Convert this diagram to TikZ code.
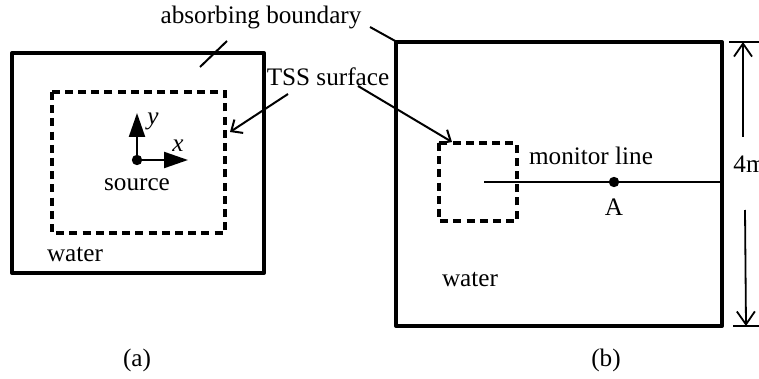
\documentclass[tikz,border=0pt]{standalone}
\usepackage{fontspec}
\setmainfont{Liberation Serif}
\usetikzlibrary{arrows.meta}
\begin{document}
\begin{tikzpicture}[x=0.5pt,y=-0.5pt, font=\fontsize{12.6}{15}\selectfont,
  box/.style={line width=2pt, line join=round},
  tss/.style={line width=1.9pt, dash pattern=on 4pt off 2.6pt},
  thinline/.style={line width=1pt},
  barb/.style={thinline,-{Straight Barb[length=4.5pt,width=8pt,line width=1pt]}},
  dimarrow/.style={line width=0.9pt,-{Straight Barb[length=6.5pt,width=9pt,line width=0.9pt]}},
  axis/.style={line width=1.1pt,-{Triangle[length=12pt,width=8pt]}},
  dot/.style={circle, fill=black, inner sep=0pt, minimum size=5.2pt},
  lbl/.style={inner sep=0pt}]
\clip (0,0) rectangle (759,379);
% ---- panel (a)
\draw[box] (12,53) rectangle (264,273);
\draw[tss] (52,92) rectangle (225,233);
\node[dot] (src) at (137,160) {};
\coordinate (ytip) at (137,113);
\coordinate (xtip) at (188,160);
\draw[axis] (src.center) -- (ytip);
\draw[axis] (src.center) -- (xtip);
\node[lbl] (ylab) at (153,121) {\textit{y}};
\node[lbl] (xlab) at (178,146) {\textit{x}};
\node[lbl] (source) at (137,185) {source};
\node[lbl] (watera) at (75,255) {water};
\node[lbl] (capa) at (137,360) {(a)};
% ---- panel (b)
\draw[box] (396,42) rectangle (722,326);
\draw[tss] (439,143) rectangle (517,221);
\coordinate (ml0) at (484,182);
\coordinate (ml1) at (722,182);
\draw[thinline] (ml0) -- (ml1);
\node[dot] (A) at (614,182) {};
\node[lbl] (Alab) at (614,207) {A};
\node[lbl] (mon) at (591,156) {monitor line};
\node[lbl] (waterb) at (470,280) {water};
\node[lbl] (capb) at (606,360) {(b)};
% ---- dimension
\coordinate (t0) at (729,42);
\coordinate (t1) at (762,42);
\coordinate (b0) at (733,326);
\coordinate (b1) at (762,326);
\draw[line width=1pt] (t0) -- (t1);
\draw[line width=1pt] (b0) -- (b1);
\node[lbl, anchor=west] (dim) at (733,164) {4m};
\coordinate (u0) at (743,137);
\coordinate (u1) at (743,42);
\coordinate (d0) at (745,210);
\coordinate (d1) at (746,326);
\draw[dimarrow] (u0) -- (u1);
\draw[dimarrow] (d0) -- (d1);
% ---- labels and leaders
\node[lbl] (ab) at (261,17) {absorbing boundary};
\coordinate (ab1s) at (227,41);
\coordinate (ab1e) at (200,67);
\coordinate (ab2s) at (370,27);
\coordinate (ab2e) at (397,42);
\draw[thinline] (ab1s) -- (ab1e);
\draw[thinline] (ab2s) -- (ab2e);
\node[lbl] (tss) at (328,77) {TSS surface};
\coordinate (ts1s) at (288,94);
\coordinate (ts1e) at (230,132);
\coordinate (ts2s) at (358,86);
\coordinate (ts2e) at (452,142);
\draw[barb] (ts1s) -- (ts1e);
\draw[barb] (ts2s) -- (ts2e);
\end{tikzpicture}
\end{document}
